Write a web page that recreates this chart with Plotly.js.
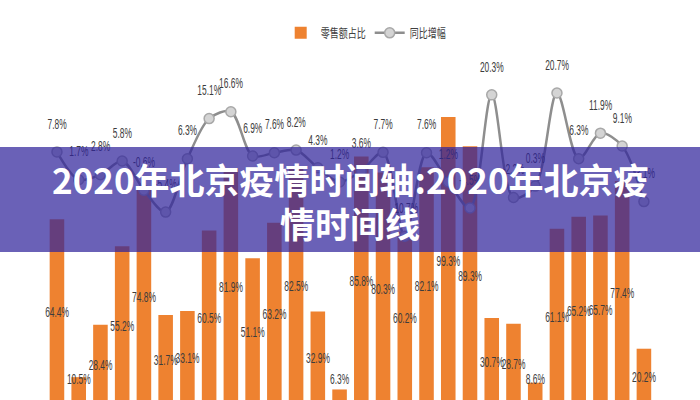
<!DOCTYPE html>
<html>
<head>
<meta charset="utf-8">
<script src="https://cdn.plot.ly/plotly-3.0.1.min.js"></script>
<style>
html,body{margin:0;padding:0;background:#fff;}
#chart{width:700px;height:400px;}
#chart .textpoint text{transform-box:fill-box;transform-origin:center;transform:scaleX(0.58);}
#chart .legendtext{transform-box:fill-box;transform-origin:left center;transform:scaleX(0.72);}
</style>
</head>
<body>
<div id="chart"></div>
<script>
// ---- data ----
const categories = ['1','2','3','4','5','6','7','8','9','10','11','12','13','14',
                    '15','16','17','18','19','20','21','22','23','24','25','26','27','28'];
const shareValues = [64.4, 10.5, 28.4, 55.2, 74.8, 31.7, 33.1, 60.5, 81.9, 51.1, 63.2, 82.5, 32.9, 6.3,
                     85.8, 80.3, 60.2, 82.1, 99.3, 89.3, 30.7, 28.7, 8.6, 61.1, 65.2, 65.7, 77.4, 20.2];
const growthValues = [7.8, 1.7, 2.8, 5.8, -0.6, -5.4, 6.3, 15.1, 16.6, 6.9, 7.6, 8.2, 4.3, 1.2,
                      3.6, 7.7, -10.7, 7.6, 1.2, -4.5, 20.3, -2.2, 0.3, 20.7, 6.3, 11.9, 9.1, -3.1];
const seriesNames = ['零售额占比', '同比增幅'];
const titleLines = ['2020年北京疫情时间轴:2020年北京疫', '情时间线'];

// ---- styling ----
const labelFont = {family: '"Liberation Sans", Arial, sans-serif', size: 14.5, color: '#3c3c3c'};
const pct = v => v.toFixed(1) + '%';

const bars = {
  type: 'bar', name: seriesNames[0], x: categories, y: shareValues,
  marker: {color: '#EE8230'}, yaxis: 'y', hoverinfo: 'skip'
};
const barLabels = {
  type: 'scatter', mode: 'text', x: categories,
  y: shareValues.map(v => Math.max(v / 2, 9.5)),
  text: shareValues.map(pct), textposition: 'middle center',
  textfont: labelFont, showlegend: false, yaxis: 'y', hoverinfo: 'skip'
};
const line = {
  type: 'scatter', mode: 'lines+markers', name: seriesNames[1], x: categories, y: growthValues,
  line: {color: '#8E8E8E', width: 2.5, shape: 'spline', smoothing: 0.9},
  marker: {size: 10, color: '#D4D4D4', line: {color: '#A8A8A8', width: 1.5}},
  yaxis: 'y2', hoverinfo: 'skip'
};
const lineLabels = {
  type: 'scatter', mode: 'text', x: categories,
  y: growthValues.map(v => v + 5.9),
  text: growthValues.map(pct), textposition: 'middle center',
  textfont: labelFont, showlegend: false, yaxis: 'y2', hoverinfo: 'skip'
};

const layout = {
  width: 700, height: 400,
  margin: {l: 0, r: 0, t: 0, b: 0},
  paper_bgcolor: '#ffffff', plot_bgcolor: '#ffffff',
  bargap: 0.33,
  showlegend: true,
  legend: {orientation: 'h', x: 0.401, y: 0.917, xanchor: 'left', yanchor: 'middle',
           font: {family: '"Noto Sans CJK SC", sans-serif', size: 12.5, color: '#404040'},
           bgcolor: 'rgba(0,0,0,0)', itemwidth: 30, entrywidth: 44, entrywidthmode: 'pixels',
           tracegroupgap: 0},
  xaxis: {type: 'category', range: [-2.62, 29.58], showgrid: false, zeroline: false,
          showticklabels: false, showline: false, ticks: ''},
  yaxis: {range: [2.7, 139.2], showgrid: false, zeroline: false, showticklabels: false, showline: false},
  yaxis2: {range: [-46.6, 41.1], overlaying: 'y', showgrid: false, zeroline: false,
           showticklabels: false, showline: false},
  shapes: [{type: 'rect', xref: 'paper', yref: 'paper', x0: 0, x1: 1,
            y0: 1 - 252/400, y1: 1 - 147/400, layer: 'above', line: {width: 0},
            fillcolor: 'rgba(48,36,155,0.72)'}],
  annotations: [
    {text: titleLines[0], xref: 'paper', yref: 'paper', x: 0.5, y: 1 - 178/400,
     xanchor: 'center', yanchor: 'middle', showarrow: false,
     font: {family: '"Noto Sans CJK SC", sans-serif', size: 35, color: '#ffffff', weight: 'bold'}},
    {text: titleLines[1], xref: 'paper', yref: 'paper', x: 0.5, y: 1 - 222/400,
     xanchor: 'center', yanchor: 'middle', showarrow: false,
     font: {family: '"Noto Sans CJK SC", sans-serif', size: 35, color: '#ffffff', weight: 'bold'}}
  ]
};

Plotly.newPlot('chart', [bars, barLabels, line, lineLabels], layout, {displayModeBar: false, staticPlot: true});
</script>
</body>
</html>
